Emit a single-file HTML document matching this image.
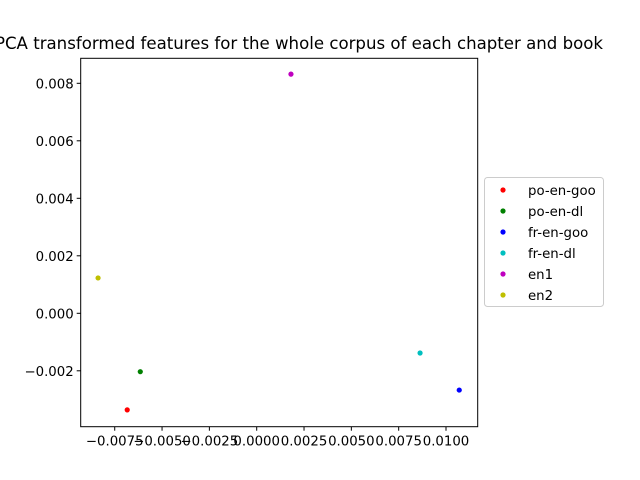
<!DOCTYPE html>
<html><head><meta charset="utf-8"><style>body{margin:0;background:#fff}svg{display:block;font-family:"DejaVu Sans","Liberation Sans",sans-serif}</style></head>
<body>
<svg id="c" width="640" height="480" xmlns="http://www.w3.org/2000/svg">
<rect width="640" height="480" fill="#fff"/>
<text x="299" y="49" font-size="16.6" text-anchor="middle">PCA transformed features for the whole corpus of each chapter and book</text>
<g id="axes"></g><g id="pts"></g><g id="leg"></g>
</svg>
<script>
const labels=["po-en-goo","po-en-dl","fr-en-goo","fr-en-dl","en1","en2"];
const colors=["#ff0000","#008000","#0000ff","#00bfbf","#bf00bf","#bfbf00"];
const xs=[-0.00684,-0.00615,0.0107,0.00863,0.00181,-0.00838];
const ys=[-0.00336,-0.00203,-0.00267,-0.00138,0.00832,0.00123];
const xTicks=[-0.0075,-0.005,-0.0025,0,0.0025,0.005,0.0075,0.01];
const xTickLabels=["\u22120.0075","\u22120.0050","\u22120.0025","0.0000","0.0025","0.0050","0.0075","0.0100"];
const yTicks=[-0.002,0,0.002,0.004,0.006,0.008];
const yTickLabels=["\u22120.002","0.000","0.002","0.004","0.006","0.008"];
const NS="http://www.w3.org/2000/svg";
const L=80.7,R=477.7,T=58.3,B=426.7;
function X(v){return 256.7+v*18930;}
function Y(v){return 313.3-v*28750;}
function mk(t,a,p){const e=document.createElementNS(NS,t);for(const k in a)e.setAttribute(k,a[k]);p.appendChild(e);return e;}
const ax=document.getElementById('axes');
const fr=mk('rect',{x:L,y:T,width:R-L,height:B-T,fill:'none',stroke:'#000','stroke-width':1},ax);


xTicks.forEach((v,i)=>{const x=X(v);
const l=mk('line',{x1:x,x2:x,y1:B,y2:B+4,stroke:'#000'},ax);


const t=mk('text',{x:x,y:B+19,'font-size':13.3,'text-anchor':'middle'},ax);t.textContent=xTickLabels[i];

});
yTicks.forEach((v,i)=>{const y=Y(v);
const l=mk('line',{x1:L-4,x2:L,y1:y,y2:y,stroke:'#000'},ax);


const t=mk('text',{x:L-7,y:y+5,'font-size':13.3,'text-anchor':'end'},ax);t.textContent=yTickLabels[i];

});
const pg=document.getElementById('pts');
xs.forEach((v,i)=>{const c=mk('circle',{cx:X(v),cy:Y(ys[i]),r:2.6,fill:colors[i]},pg);

});
const lg=document.getElementById('leg');


mk('rect',{x:484.5,y:177.5,width:119,height:129,rx:3,fill:'#fff',stroke:'#ccc'},lg);
labels.forEach((s,i)=>{const y=190+i*21;
const c=mk('circle',{cx:503,cy:y,r:2.6,fill:colors[i]},lg);


const t=mk('text',{x:528,y:y+5,'font-size':13.3},lg);t.textContent=s;

});
</script>
</body></html>
